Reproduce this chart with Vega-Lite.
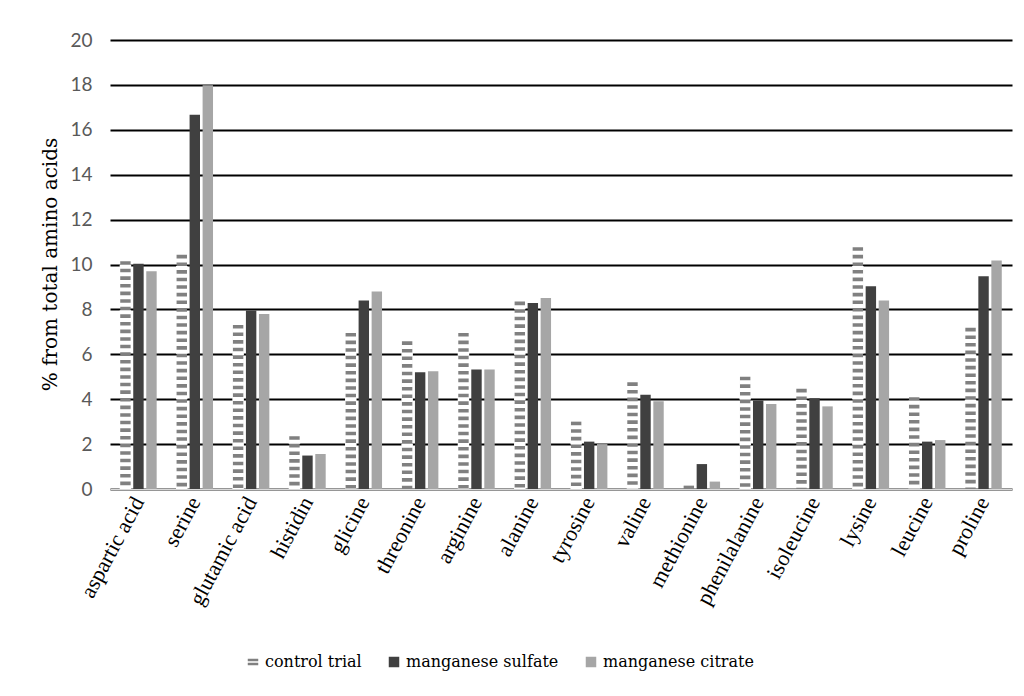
{
  "$schema": "https://vega.github.io/schema/vega-lite/v6.json",
  "autosize": {"type": "none"},
  "width": 902,
  "height": 449,
  "padding": {"left": 110, "top": 40, "right": 12, "bottom": 207},
  "background": "white",
  "config": {
    "view": {"stroke": null},
    "font": "Liberation Serif",
    "legend": {"labelFont": "DejaVu Serif", "labelFontSize": 16, "labelColor": "#000000"},
    "axisY": {"titleFont": "DejaVu Serif", "titleFontSize": 20, "titleFontWeight": "normal", "titleColor": "#000000", "labelFont": "Lato", "labelFontSize": 19, "labelColor": "#595959"},
    "axisX": {"labelFont": "Liberation Serif", "labelFontSize": 22, "labelColor": "#000000"}
  },
  "data": {
    "values": [
      {"amino": "aspartic acid", "series": "control trial", "value": 10.15},
      {"amino": "aspartic acid", "series": "manganese sulfate", "value": 10.03},
      {"amino": "aspartic acid", "series": "manganese citrate", "value": 9.7},
      {"amino": "serine", "series": "control trial", "value": 10.43},
      {"amino": "serine", "series": "manganese sulfate", "value": 16.67},
      {"amino": "serine", "series": "manganese citrate", "value": 17.98},
      {"amino": "glutamic acid", "series": "control trial", "value": 7.31},
      {"amino": "glutamic acid", "series": "manganese sulfate", "value": 7.95},
      {"amino": "glutamic acid", "series": "manganese citrate", "value": 7.8},
      {"amino": "histidin", "series": "control trial", "value": 2.35},
      {"amino": "histidin", "series": "manganese sulfate", "value": 1.49},
      {"amino": "histidin", "series": "manganese citrate", "value": 1.56},
      {"amino": "glicine", "series": "control trial", "value": 6.95},
      {"amino": "glicine", "series": "manganese sulfate", "value": 8.4},
      {"amino": "glicine", "series": "manganese citrate", "value": 8.8},
      {"amino": "threonine", "series": "control trial", "value": 6.58},
      {"amino": "threonine", "series": "manganese sulfate", "value": 5.2},
      {"amino": "threonine", "series": "manganese citrate", "value": 5.25},
      {"amino": "arginine", "series": "control trial", "value": 6.95},
      {"amino": "arginine", "series": "manganese sulfate", "value": 5.32},
      {"amino": "arginine", "series": "manganese citrate", "value": 5.32},
      {"amino": "alanine", "series": "control trial", "value": 8.35},
      {"amino": "alanine", "series": "manganese sulfate", "value": 8.28},
      {"amino": "alanine", "series": "manganese citrate", "value": 8.51},
      {"amino": "tyrosine", "series": "control trial", "value": 3.0},
      {"amino": "tyrosine", "series": "manganese sulfate", "value": 2.11},
      {"amino": "tyrosine", "series": "manganese citrate", "value": 2.0},
      {"amino": "valine", "series": "control trial", "value": 4.75},
      {"amino": "valine", "series": "manganese sulfate", "value": 4.2},
      {"amino": "valine", "series": "manganese citrate", "value": 3.91},
      {"amino": "methionine", "series": "control trial", "value": 0.15},
      {"amino": "methionine", "series": "manganese sulfate", "value": 1.11},
      {"amino": "methionine", "series": "manganese citrate", "value": 0.33},
      {"amino": "phenilalanine", "series": "control trial", "value": 5.0},
      {"amino": "phenilalanine", "series": "manganese sulfate", "value": 3.94},
      {"amino": "phenilalanine", "series": "manganese citrate", "value": 3.79},
      {"amino": "isoleucine", "series": "control trial", "value": 4.46},
      {"amino": "isoleucine", "series": "manganese sulfate", "value": 4.04},
      {"amino": "isoleucine", "series": "manganese citrate", "value": 3.68},
      {"amino": "lysine", "series": "control trial", "value": 10.77},
      {"amino": "lysine", "series": "manganese sulfate", "value": 9.03},
      {"amino": "lysine", "series": "manganese citrate", "value": 8.4},
      {"amino": "leucine", "series": "control trial", "value": 4.09},
      {"amino": "leucine", "series": "manganese sulfate", "value": 2.11},
      {"amino": "leucine", "series": "manganese citrate", "value": 2.18},
      {"amino": "proline", "series": "control trial", "value": 7.18},
      {"amino": "proline", "series": "manganese sulfate", "value": 9.48},
      {"amino": "proline", "series": "manganese citrate", "value": 10.18}
    ]
  },
  "encoding": {
    "x": {
      "field": "amino",
      "type": "nominal",
      "sort": null,
      "scale": {"paddingInner": 0.33, "paddingOuter": 0.17},
      "axis": {
        "title": null,
        "labelAngle": -62,
        "labelPadding": 9,
        "ticks": false,
        "domainColor": "#d9d9d9",
        "domainWidth": 1.5,
        "grid": false
      }
    },
    "xOffset": {
      "field": "series",
      "type": "nominal",
      "scale": {"domain": ["control trial", "manganese sulfate", "manganese citrate"], "paddingInner": 0.2, "paddingOuter": 0.05}
    },
    "y": {
      "field": "value",
      "type": "quantitative",
      "scale": {"domain": [0, 20], "nice": false},
      "axis": {
        "values": [0, 2, 4, 6, 8, 10, 12, 14, 16, 18, 20],
        "title": "% from total amino acids",
        "titleX": -60,
        "titleY": 224,
        "titleAngle": -90,
        "titleAlign": "center",
        "titleBaseline": "middle",
        "labelPadding": 18,
        "ticks": false,
        "domain": false,
        "grid": true,
        "gridColor": "#000000",
        "gridWidth": 2
      }
    }
  },
  "layer": [
    {
      "mark": {"type": "bar"},
      "encoding": {
        "color": {
          "field": "series",
          "type": "nominal",
          "scale": {
            "domain": ["control trial", "manganese sulfate", "manganese citrate"],
            "range": ["#808080", "#404040", "#a6a6a6"]
          },
          "legend": {
            "title": null,
            "orient": "none",
            "legendX": 135,
            "legendY": 614,
            "direction": "horizontal",
            "labelOffset": 4,
            "labelLimit": 300,
            "columnPadding": 24,
            "symbolType": "square",
            "symbolSize": 110,
            "symbolStrokeWidth": 0,
            "encode": {
              "symbols": {
                "update": {
                  "shape": {"signal": "datum.value === 'control trial' ? 'M-1,-0.6H1V-0.15H-1Z M-1,0.15H1V0.6H-1Z' : 'square'"}
                }
              }
            }
          }
        }
      }
    },
    {
      "transform": [{"filter": "datum.series === 'control trial'"}],
      "mark": {"type": "rule", "color": "#ffffff", "strokeWidth": 11.5, "strokeCap": "butt", "strokeDash": [4, 3.6], "strokeDashOffset": 4},
      "encoding": {
        "y2": {"datum": 0}
      }
    }
  ]
}
